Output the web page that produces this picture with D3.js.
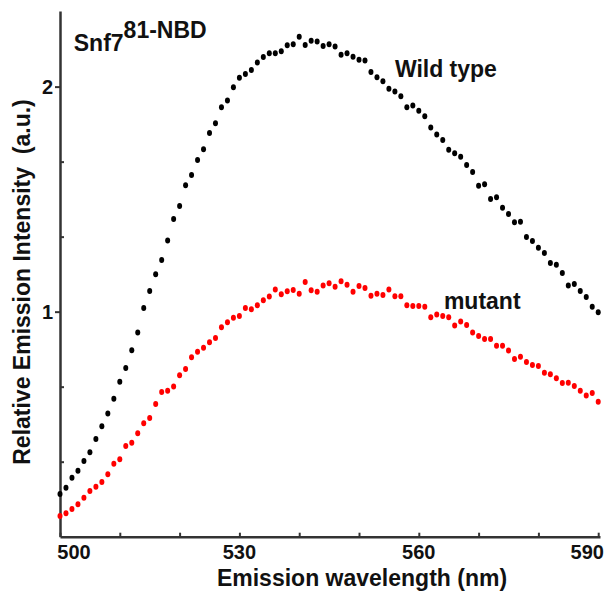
<!DOCTYPE html>
<html>
<head>
<meta charset="utf-8">
<script src="https://cdn.jsdelivr.net/npm/d3@7"></script>
<style>
  body { margin: 0; background: #fff; }
  text { font-family: "Liberation Sans", Arial, sans-serif; font-weight: bold; fill: #111; }
</style>
</head>
<body>
<svg id="chart"></svg>
<script>
// wavelengths 500..590 nm, one reading per nm
var wavelengths = d3.range(500, 591);

var wildType = [
  0.190, 0.218, 0.262, 0.293, 0.336, 0.375, 0.434, 0.491, 0.548, 0.613,
  0.688, 0.750, 0.828, 0.907, 1.016, 1.092, 1.166, 1.230, 1.316, 1.412,
  1.470, 1.562, 1.607, 1.674, 1.722, 1.794, 1.837, 1.908, 1.938, 1.997,
  2.039, 2.056, 2.074, 2.107, 2.132, 2.148, 2.148, 2.157, 2.184, 2.188,
  2.222, 2.185, 2.204, 2.201, 2.181, 2.188, 2.178, 2.142, 2.148, 2.133,
  2.119, 2.116, 2.065, 2.042, 2.024, 1.991, 1.978, 1.957, 1.908, 1.916,
  1.893, 1.868, 1.818, 1.787, 1.763, 1.719, 1.704, 1.688, 1.652, 1.621,
  1.559, 1.566, 1.501, 1.508, 1.462, 1.434, 1.397, 1.399, 1.332, 1.314,
  1.284, 1.261, 1.216, 1.208, 1.172, 1.116, 1.123, 1.092, 1.065, 1.022,
  0.997
];

var mutant = [
  0.092, 0.104, 0.123, 0.144, 0.173, 0.203, 0.222, 0.243, 0.277, 0.324,
  0.344, 0.403, 0.418, 0.460, 0.504, 0.528, 0.590, 0.643, 0.649, 0.667,
  0.717, 0.745, 0.797, 0.822, 0.840, 0.864, 0.883, 0.931, 0.953, 0.973,
  0.981, 1.016, 1.011, 1.028, 1.051, 1.067, 1.098, 1.077, 1.091, 1.096,
  1.080, 1.132, 1.095, 1.089, 1.116, 1.126, 1.111, 1.135, 1.120, 1.089,
  1.114, 1.105, 1.071, 1.080, 1.074, 1.098, 1.068, 1.068, 1.028, 1.025,
  1.025, 1.022, 0.975, 0.987, 0.981, 0.975, 0.938, 0.956, 0.941, 0.907,
  0.892, 0.879, 0.879, 0.849, 0.848, 0.827, 0.790, 0.800, 0.776, 0.763,
  0.759, 0.729, 0.722, 0.704, 0.683, 0.684, 0.670, 0.649, 0.627, 0.639,
  0.600
];

var xTicks = [500, 510, 520, 530, 540, 550, 560, 570, 580, 590];
var xTickLabels = [500, 530, 560, 590];
var yTicks = [1 / 3, 2 / 3, 1, 4 / 3, 5 / 3, 2];
var yTickLabels = [1, 2];

var svgWidth = 608, svgHeight = 594;
var svg = d3.select('#chart')
    .attr('width', svgWidth)
    .attr('height', svgHeight);

var x = d3.scaleLinear()
    .domain([500, 590.3])
    .range([60, 600]);

var y = d3.scaleLinear()
    .domain([0, 2.336])
    .range([536.7, 11]);

var axisColor = '#333';

// x axis: ticks point into the plot
var gx = svg.append('g')
    .attr('transform', 'translate(0,536.7)')
    .call(d3.axisBottom(x).tickValues(xTicks).tickSizeInner(-4).tickSizeOuter(0).tickFormat(''));
gx.select('.domain').attr('stroke', axisColor).attr('stroke-width', 2.5);
gx.selectAll('.tick line').attr('stroke', axisColor).attr('stroke-width', 2);

svg.append('g').selectAll('text')
    .data(xTickLabels)
    .enter().append('text')
    .attr('x', (d) => { return d === 500 ? x(d) + 14 : (d === 590 ? x(d) - 11 : x(d)) })
    .attr('y', 559)
    .attr('text-anchor', 'middle')
    .attr('font-size', 20)
    .text((d) => { return d });

// y axis
var gy = svg.append('g')
    .attr('transform', 'translate(60,0)')
    .call(d3.axisLeft(y).tickValues(yTicks).tickSizeOuter(0).tickFormat(''));
gy.select('.domain').attr('stroke', axisColor).attr('stroke-width', 2.5);
gy.selectAll('.tick line')
    .attr('stroke', axisColor)
    .attr('stroke-width', 2)
    .attr('x1', (d) => { return yTickLabels.indexOf(Math.round(d * 1000) / 1000) >= 0 ? 0 : 4 })
    .attr('x2', (d) => { return yTickLabels.indexOf(Math.round(d * 1000) / 1000) >= 0 ? -5 : 0 });

svg.append('g').selectAll('text')
    .data(yTickLabels)
    .enter().append('text')
    .attr('x', 53)
    .attr('y', (d) => { return y(d) + 7 })
    .attr('text-anchor', 'end')
    .attr('font-size', 20)
    .text((d) => { return d });

// axis titles
svg.append('text')
    .attr('x', 362)
    .attr('y', 586)
    .attr('text-anchor', 'middle')
    .attr('font-size', 23)
    .text('Emission wavelength (nm)');

svg.append('text')
    .attr('transform', 'translate(30,282) rotate(-90)')
    .attr('text-anchor', 'middle')
    .attr('font-size', 23)
    .style('white-space', 'pre')
    .text('Relative Emission Intensity  (a.u.)');

// data points
function drawSeries(values, color) {
    svg.append('g').selectAll('ellipse')
        .data(values)
        .enter().append('ellipse')
        .attr('cx', (d, i) => { return x(wavelengths[i]) })
        .attr('cy', (d) => { return y(d) })
        .attr('rx', 2.5)
        .attr('ry', 3)
        .attr('fill', color);
}
drawSeries(wildType, '#000');
drawSeries(mutant, '#f00');

// labels
var title = svg.append('text')
    .attr('x', x(502.3))
    .attr('y', y(2.158))
    .attr('font-size', 23);
title.append('tspan').text('Snf7');
title.append('tspan').attr('dy', -13).text('81-NBD');

svg.append('text')
    .attr('x', x(556))
    .attr('y', y(2.043))
    .attr('font-size', 23)
    .text('Wild type');

svg.append('text')
    .attr('x', x(564.2))
    .attr('y', y(1.012))
    .attr('font-size', 23)
    .text('mutant');
</script>
</body>
</html>
